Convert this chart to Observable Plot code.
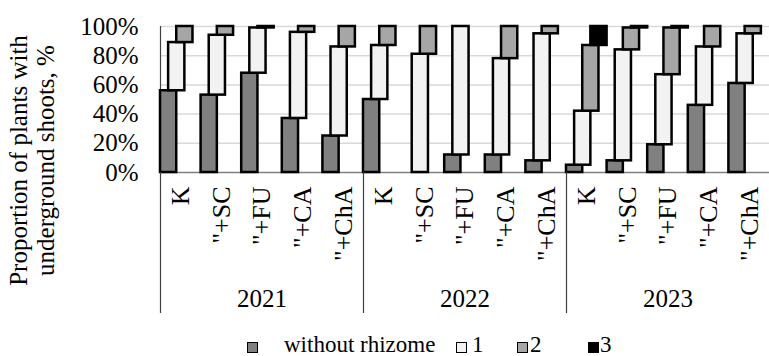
<!DOCTYPE html>
<html>
<head>
<meta charset="utf-8">
<script src="https://cdn.jsdelivr.net/npm/d3@7"></script>
<script src="https://cdn.jsdelivr.net/npm/@observablehq/plot@0.6"></script>
<style>
  body { margin: 0; background: white; font-family: "Liberation Serif", serif; }
  #wrap { width: 769px; height: 356px; position: relative; overflow: hidden; }
  #legend { position: relative; height: 28px; font-size: 23px; color: #000; font-family: "Liberation Serif", serif; }
  .item { position: absolute; top: 3px; height: 28px; line-height: 28px; white-space: nowrap; font-family: "Liberation Serif", serif; }
  .sw { position: absolute; top: 14px; width: 9px; height: 9px; border: 1.5px solid #000; }
</style>
</head>
<body>
<div id="wrap"></div>
<script>
// ---- data ----
const years = ["2021", "2022", "2023"];
const treatments = ["K", "\"+SC", "\"+FU", "\"+CA", "\"+ChA"];
const seriesNames = ["without rhizome", "1", "2", "3"];
// percent of plants, one value per year x treatment (15 values)
const withoutRhizome = [56, 53, 68, 37, 25,  50, 0, 12, 12, 8,   5, 8, 19, 46, 61];
const one            = [33, 41, 31, 59, 61,  37, 81, 88, 66, 87,  37, 76, 48, 40, 34];
const two            = [11, 6, 1, 4, 14,     13, 19, 0, 22, 5,    45, 15, 32, 14, 5];
const three          = [0, 0, 0, 0, 0,       0, 0, 0, 0, 0,       13, 1, 1, 0, 0];
const yTicks = [0, 0.2, 0.4, 0.6, 0.8, 1];
const seriesColors = ["#808080", "#f2f2f2", "#a6a6a6", "#000000"];

// ---- build table ----
const series = [withoutRhizome, one, two, three];
const nCat = withoutRhizome.length;
const rows = [];
for (let i = 0; i < nCat; i++) {
  let cum = 0;
  series.forEach((vals, s) => {
    const v = vals[i];
    if (v > 0) {
      rows.push({
        series: seriesNames[s],
        x1: i + s * 0.2,
        x2: i + s * 0.2 + 0.4,
        y1: cum / 100,
        y2: (cum + v) / 100
      });
    }
    cum += v;
  });
}
const catCenters = d3.range(nCat).map(i => i + 0.5);
const yearBounds = d3.range(years.length).map(k => k * treatments.length);
const yearCenters = yearBounds.map(b => b + treatments.length / 2);
const FF = "Liberation Serif";

const chart = Plot.plot({
  width: 769,
  height: 328,
  marginLeft: 160,
  marginRight: 0,
  marginTop: 26,
  marginBottom: 156,
  style: { fontFamily: FF, color: "#000", background: "white", overflow: "visible" },
  x: { domain: [0, nCat] },
  y: { domain: [0, 1] },
  color: { domain: seriesNames, range: seriesColors },
  marks: [
    Plot.ruleY(yTicks.filter(d => d > 0), { stroke: "#d9d9d9", strokeWidth: 1.5 }),
    Plot.ruleY([0], { stroke: "#808080", strokeWidth: 1.5 }),
    Plot.ruleX([0], { y1: 0, y2: 1, stroke: "#404040", strokeWidth: 1.2 }),
    Plot.rect(rows, { x1: "x1", x2: "x2", y1: "y1", y2: "y2", fill: "series", stroke: "#000", strokeWidth: 2.5 }),
    Plot.axisY(yTicks, { tickFormat: d3.format(".0%"), tickSize: 0, tickPadding: 22, fontSize: 25, fontFamily: FF }),
    Plot.axisX(catCenters, { tickFormat: d => treatments[Math.floor(d) % treatments.length], tickRotate: -90, tickSize: 0, tickPadding: 14, fontSize: 26, fontFamily: FF }),
    Plot.axisX(yearBounds, { tickFormat: () => "", tickSize: 141, stroke: "#404040", strokeWidth: 1.2 }),
    Plot.axisX(yearCenters, { tickFormat: d => years[Math.floor(d / treatments.length)], tickSize: 0, tickPadding: 117, fontSize: 25, fontFamily: FF }),
    Plot.text(["Proportion of plants with\nunderground shoots, %"], {
      text: d => d, frameAnchor: "left", textAnchor: "middle", rotate: -90, dx: -129, dy: 61,
      fontSize: 25, lineHeight: 1.08, fontFamily: FF
    })
  ]
});
document.getElementById("wrap").appendChild(chart);

// ---- legend ----
const legend = document.createElement("div");
legend.id = "legend";
const swLeft = [247, 456, 517, 588];
const txtLeft = [284, 472, 530, 600];
seriesNames.forEach((name, s) => {
  const sw = document.createElement("div");
  sw.className = "sw";
  sw.style.left = swLeft[s] + "px";
  sw.style.background = seriesColors[s];
  legend.appendChild(sw);
  const t = document.createElement("div");
  t.className = "item";
  t.style.left = txtLeft[s] + "px";
  t.textContent = name;
  legend.appendChild(t);
});
document.getElementById("wrap").appendChild(legend);
</script>
</body>
</html>
